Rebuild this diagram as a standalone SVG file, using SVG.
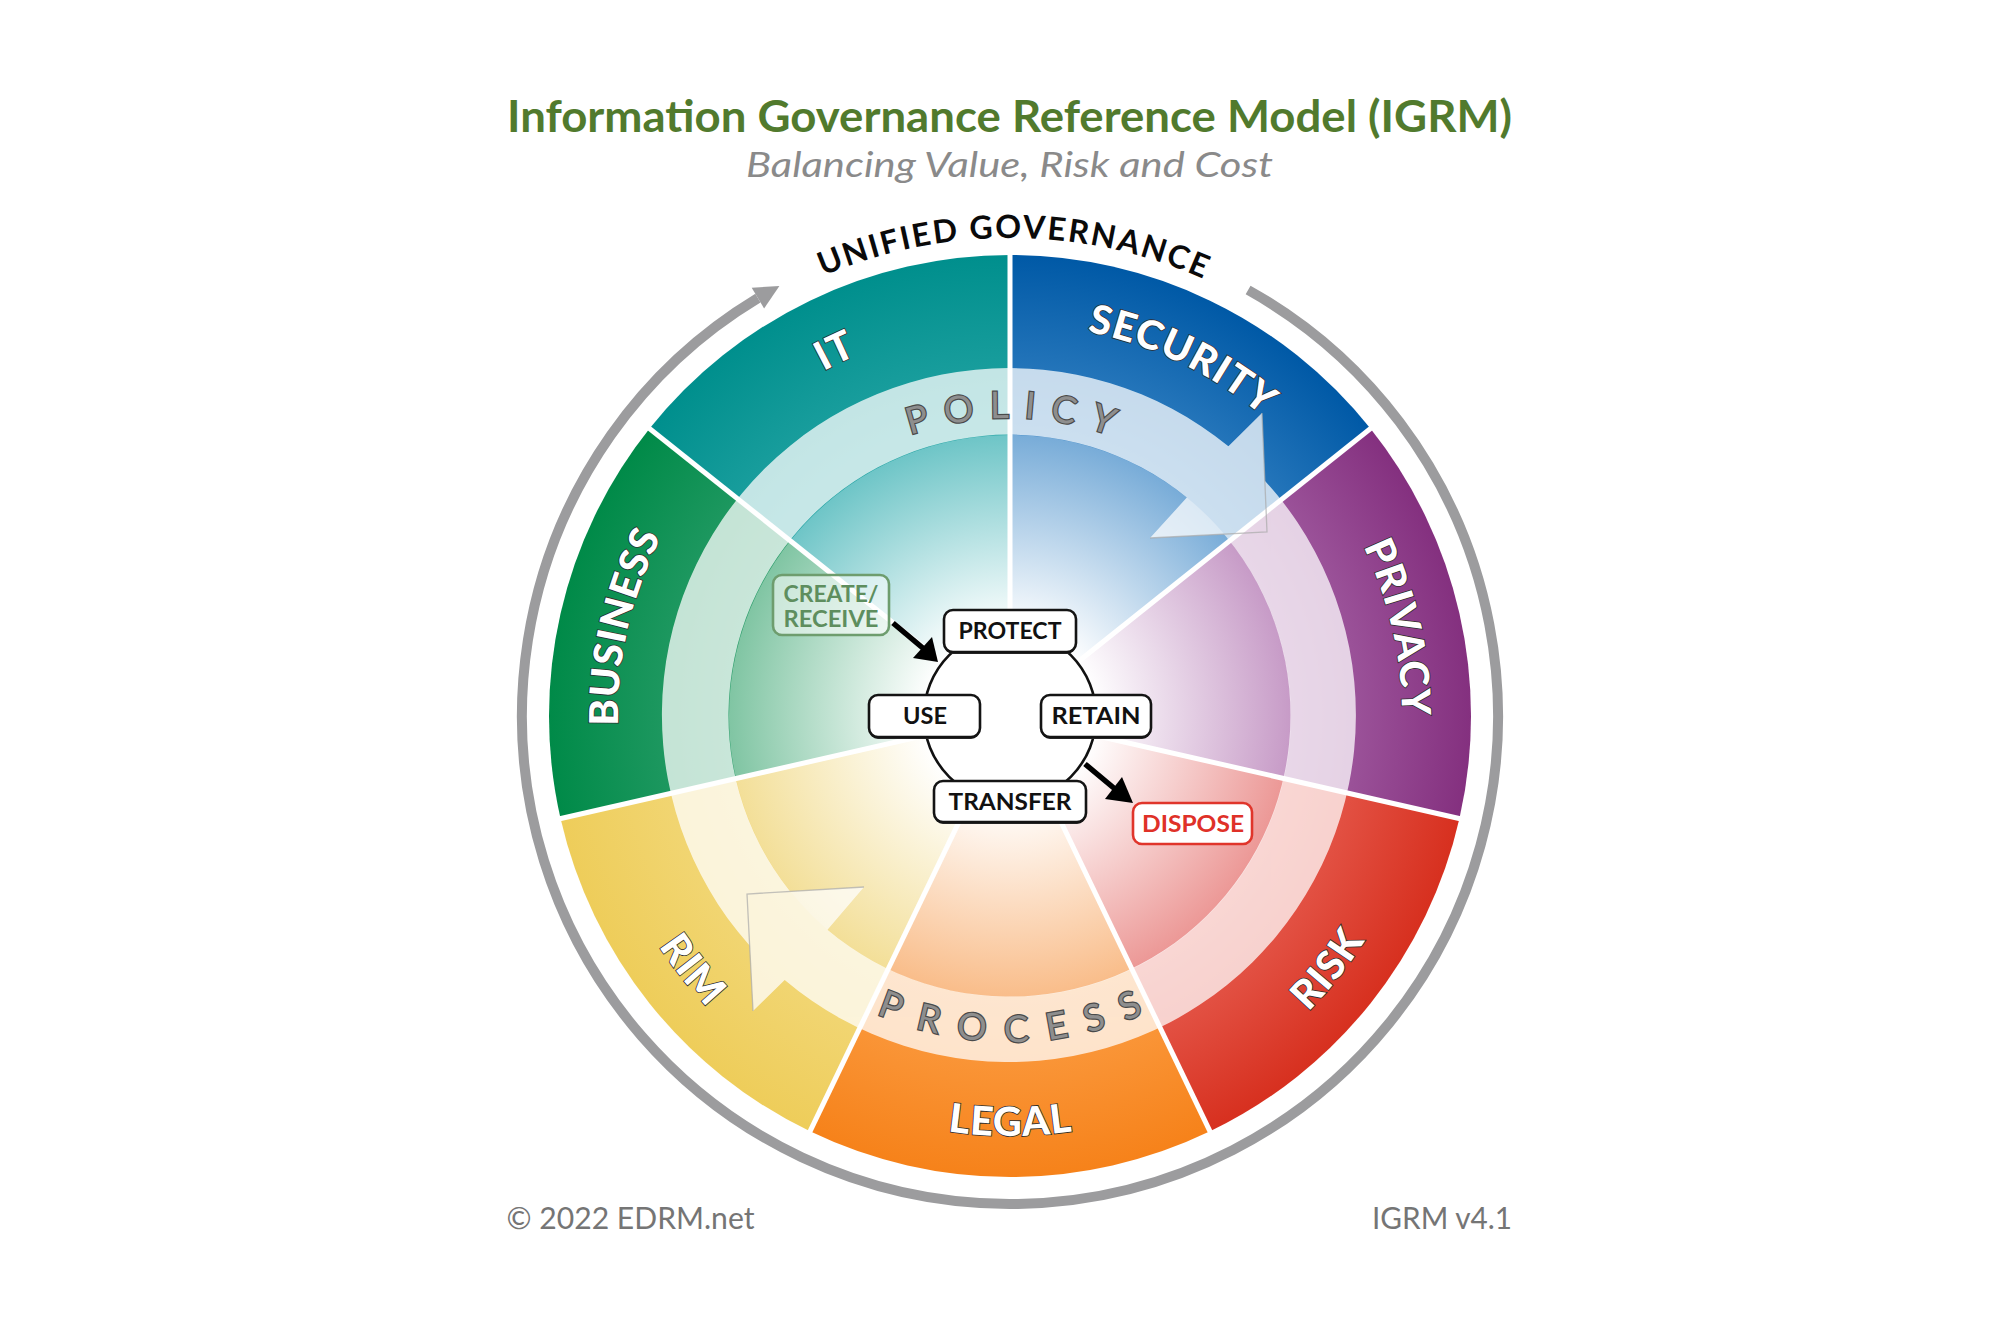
<svg xmlns="http://www.w3.org/2000/svg" width="2001" height="1334" viewBox="0 0 2001 1334">
<style>
text{font-family:Lato,'Open Sans','DejaVu Sans',sans-serif}
.lbl{font-weight:900;font-size:40px;fill:#fff;stroke:#2d2d2d;stroke-width:1.6px;paint-order:stroke;letter-spacing:1px}
.bandtxt{font-weight:400;font-size:37px;fill:#8e8e8e;stroke:#4a4a4a;stroke-width:2.4px;paint-order:stroke}
.ug{font-weight:700;font-size:32px;fill:#0a0a0a;letter-spacing:2px}
.box{fill:#fff;stroke:#141414;stroke-width:2.6}
.shadow{fill:#2a2a2a}
.bt{font-weight:700;font-size:22px;fill:#111;text-anchor:middle}
.sep{stroke:#fff;stroke-width:5;stroke-linecap:butt}
.arr{fill:#000}
</style>
<defs>
  <radialGradient id="o-it" gradientUnits="userSpaceOnUse" cx="1010" cy="716" r="461"><stop offset="0.6" stop-color="#27a6a6"/><stop offset="1" stop-color="#008f8d"/></radialGradient>
  <radialGradient id="o-sec" gradientUnits="userSpaceOnUse" cx="1010" cy="716" r="461"><stop offset="0.6" stop-color="#3a86c6"/><stop offset="1" stop-color="#0059a6"/></radialGradient>
  <radialGradient id="o-pri" gradientUnits="userSpaceOnUse" cx="1010" cy="716" r="461"><stop offset="0.6" stop-color="#a866a8"/><stop offset="1" stop-color="#84307f"/></radialGradient>
  <radialGradient id="o-risk" gradientUnits="userSpaceOnUse" cx="1010" cy="716" r="461"><stop offset="0.6" stop-color="#e96458"/><stop offset="1" stop-color="#d7301f"/></radialGradient>
  <radialGradient id="o-leg" gradientUnits="userSpaceOnUse" cx="1010" cy="716" r="461"><stop offset="0.6" stop-color="#fca048"/><stop offset="1" stop-color="#f6821a"/></radialGradient>
  <radialGradient id="o-rim" gradientUnits="userSpaceOnUse" cx="1010" cy="716" r="461"><stop offset="0.6" stop-color="#f3da80"/><stop offset="1" stop-color="#eecd5a"/></radialGradient>
  <radialGradient id="o-bus" gradientUnits="userSpaceOnUse" cx="1010" cy="716" r="461"><stop offset="0.6" stop-color="#2fa06e"/><stop offset="1" stop-color="#008a48"/></radialGradient>

  <radialGradient id="c-it" gradientUnits="userSpaceOnUse" cx="1010" cy="716" r="281"><stop offset="0.3" stop-color="#fff"/><stop offset="1" stop-color="#6ec5c7"/></radialGradient>
  <radialGradient id="c-sec" gradientUnits="userSpaceOnUse" cx="1010" cy="716" r="281"><stop offset="0.3" stop-color="#fff"/><stop offset="1" stop-color="#78acd8"/></radialGradient>
  <radialGradient id="c-pri" gradientUnits="userSpaceOnUse" cx="1010" cy="716" r="281"><stop offset="0.3" stop-color="#fff"/><stop offset="1" stop-color="#c79bc7"/></radialGradient>
  <radialGradient id="c-risk" gradientUnits="userSpaceOnUse" cx="1010" cy="716" r="281"><stop offset="0.3" stop-color="#fff"/><stop offset="1" stop-color="#ec9896"/></radialGradient>
  <radialGradient id="c-leg" gradientUnits="userSpaceOnUse" cx="1010" cy="716" r="281"><stop offset="0.3" stop-color="#fff"/><stop offset="1" stop-color="#f9bd8a"/></radialGradient>
  <radialGradient id="c-rim" gradientUnits="userSpaceOnUse" cx="1010" cy="716" r="281"><stop offset="0.3" stop-color="#fff"/><stop offset="1" stop-color="#f3df98"/></radialGradient>
  <radialGradient id="c-bus" gradientUnits="userSpaceOnUse" cx="1010" cy="716" r="281"><stop offset="0.3" stop-color="#fff"/><stop offset="1" stop-color="#80c5a3"/></radialGradient>

  <path id="p-it" d="M686.2,495.1 A392,392 0 0 1 1039.4,325.1"/>
  <path id="p-sec" d="M980.6,325.1 A392,392 0 0 1 1333.8,495.1"/>
  <path id="p-pri" d="M1297.3,449.4 A392,392 0 0 1 1384.6,831.5"/>
  <path id="p-bus" d="M635.4,831.5 A392,392 0 0 1 722.7,449.4"/>
  <path id="p-risk" d="M1163.4,1107.0 A420,420 0 0 0 1425.3,778.6"/>
  <path id="p-leg" d="M800,1079.7 A420,420 0 0 0 1220,1079.7"/>
  <path id="p-rim" d="M594.7,778.6 A420,420 0 0 0 856.6,1107.0"/>
  <path id="p-policy" d="M818.5,487.7 A298,298 0 0 1 1201.5,487.7"/>
  <path id="p-process" d="M779.5,946.5 A326,326 0 0 0 1240.5,946.5"/>
  <path id="p-ug" d="M702.7,349.8 A478,478 0 0 1 1317.3,349.8"/>
</defs>

<rect x="0" y="0" width="2001" height="1334" fill="#fff"/>

<g id="title">
  <text x="1009.5" y="132" font-size="44" font-weight="700" fill="#517a2d" text-anchor="middle" textLength="1005" lengthAdjust="spacingAndGlyphs">Information Governance Reference Model (IGRM)</text>
  <text x="1009.5" y="177" font-size="34" font-style="italic" fill="#8a8a8a" text-anchor="middle" textLength="527" lengthAdjust="spacingAndGlyphs">Balancing Value, Risk and Cost</text>
</g>

<g id="sector-it">
  <path d="M1010,716 L649.58,428.57 A461,461 0 0 1 1010,255 Z" fill="url(#o-it)"/>
  <path d="M1010,716 L790.31,540.80 A281,281 0 0 1 1010,435 Z" fill="url(#c-it)"/>
  <text class="lbl"><textPath href="#p-it" startOffset="205.75" text-anchor="middle">IT</textPath></text>
</g>
<g id="sector-security">
  <path d="M1010,716 L1010,255 A461,461 0 0 1 1370.42,428.57 Z" fill="url(#o-sec)"/>
  <path d="M1010,716 L1010,435 A281,281 0 0 1 1229.69,540.80 Z" fill="url(#c-sec)"/>
  <text class="lbl"><textPath href="#p-sec" startOffset="205.75" text-anchor="middle">SECURITY</textPath></text>
</g>
<g id="sector-privacy">
  <path d="M1010,716 L1370.42,428.57 A461,461 0 0 1 1459.44,818.58 Z" fill="url(#o-pri)"/>
  <path d="M1010,716 L1229.69,540.80 A281,281 0 0 1 1283.96,778.53 Z" fill="url(#c-pri)"/>
  <text class="lbl"><textPath href="#p-pri" startOffset="205.75" text-anchor="middle">PRIVACY</textPath></text>
</g>
<g id="sector-risk">
  <path d="M1010,716 L1459.44,818.58 A461,461 0 0 1 1210.02,1131.35 Z" fill="url(#o-risk)"/>
  <path d="M1010,716 L1283.96,778.53 A281,281 0 0 1 1131.92,969.17 Z" fill="url(#c-risk)"/>
  <text class="lbl"><textPath href="#p-risk" startOffset="220.4" text-anchor="middle">RISK</textPath></text>
</g>
<g id="sector-legal">
  <path d="M1010,716 L1210.02,1131.35 A461,461 0 0 1 809.98,1131.35 Z" fill="url(#o-leg)"/>
  <path d="M1010,716 L1131.92,969.17 A281,281 0 0 1 888.08,969.17 Z" fill="url(#c-leg)"/>
  <text class="lbl"><textPath href="#p-leg" startOffset="220.4" text-anchor="middle">LEGAL</textPath></text>
</g>
<g id="sector-rim">
  <path d="M1010,716 L809.98,1131.35 A461,461 0 0 1 560.56,818.58 Z" fill="url(#o-rim)"/>
  <path d="M1010,716 L888.08,969.17 A281,281 0 0 1 736.04,778.53 Z" fill="url(#c-rim)"/>
  <text class="lbl"><textPath href="#p-rim" startOffset="220.4" text-anchor="middle">RIM</textPath></text>
</g>
<g id="sector-business">
  <path d="M1010,716 L560.56,818.58 A461,461 0 0 1 649.58,428.57 Z" fill="url(#o-bus)"/>
  <path d="M1010,716 L736.04,778.53 A281,281 0 0 1 790.31,540.80 Z" fill="url(#c-bus)"/>
  <text class="lbl"><textPath href="#p-bus" startOffset="205.75" text-anchor="middle">BUSINESS</textPath></text>
</g>

<g id="separators">
  <line class="sep" x1="1010" y1="716" x2="1010" y2="252"/>
  <line class="sep" x1="1010" y1="716" x2="1372.77" y2="426.70"/>
  <line class="sep" x1="1010" y1="716" x2="1462.37" y2="819.25"/>
  <line class="sep" x1="1010" y1="716" x2="1211.32" y2="1134.05"/>
  <line class="sep" x1="1010" y1="716" x2="808.68" y2="1134.05"/>
  <line class="sep" x1="1010" y1="716" x2="557.63" y2="819.25"/>
  <line class="sep" x1="1010" y1="716" x2="647.23" y2="426.70"/>
</g>

<g id="band-arrows">
  <g opacity="0.74" fill="#fff">
    <path d="M784.7,979.9 A347,347 0 0 1 1228.4,446.3 L1262,413 L1267,532 L1150,538 L1186.8,497.6 A281,281 0 0 0 827.5,929.7 Z"/>
    <path d="M1228.4,446.3 A347,347 0 1 1 784.7,979.9 L753,1011 L747,894 L864,887 L827.5,929.7 A281,281 0 1 0 1186.8,497.6 Z"/>
  </g>
  <polyline points="1262,413 1267,532 1150,538" fill="none" stroke="#a9a9a9" stroke-width="1.3" opacity="0.7"/>
  <polyline points="753,1011 747,894 864,887" fill="none" stroke="#a9a9a9" stroke-width="1.3" opacity="0.7"/>
  <text class="bandtxt" letter-spacing="15"><textPath href="#p-policy" startOffset="215.6" text-anchor="middle">POLICY</textPath></text>
  <text class="bandtxt" letter-spacing="19"><textPath href="#p-process" startOffset="265.6" text-anchor="middle">PROCESS</textPath></text>
</g>

<g id="governance-ring">
  <path d="M1248.1,290.0 A488,488 0 1 1 757.9,298.1" fill="none" stroke="#9c9c9e" stroke-width="10"/>
  <polygon points="779.4,285.9 751.7,287.8 764.1,308.4" fill="#9c9c9e"/>
  <text class="ug"><textPath href="#p-ug" startOffset="338" text-anchor="middle">UNIFIED GOVERNANCE</textPath></text>
</g>

<g id="connectors">
  <circle cx="1010" cy="716" r="86" fill="#fff" stroke="#111" stroke-width="2.6"/>
  <line x1="893" y1="623" x2="924" y2="649" stroke="#000" stroke-width="5.5"/>
  <polygon class="arr" points="938,662 913,658 932,637"/>
  <line x1="1085" y1="764" x2="1115" y2="789" stroke="#000" stroke-width="5.5"/>
  <polygon class="arr" points="1133,803 1105,799 1122,777"/>
</g>

<g id="node-create">
  <rect x="773" y="575" width="116" height="60" rx="9" fill="#fff" fill-opacity="0.55" stroke="#6e9d6e" stroke-width="2.6"/>
  <text class="bt" x="831" y="602" style="fill:#5e8e5e" textLength="95" lengthAdjust="spacingAndGlyphs">CREATE/</text>
  <text class="bt" x="831" y="627" style="fill:#5e8e5e" textLength="95" lengthAdjust="spacingAndGlyphs">RECEIVE</text>
</g>
<g id="node-protect">
  <rect class="shadow" x="944" y="612" width="132" height="42" rx="9"/>
  <rect class="box" x="944" y="610" width="132" height="42" rx="9"/>
  <text class="bt" x="1010" y="639" textLength="103" lengthAdjust="spacingAndGlyphs">PROTECT</text>
</g>
<g id="node-use">
  <rect class="shadow" x="869" y="697" width="111" height="42" rx="9"/>
  <rect class="box" x="869" y="695" width="111" height="42" rx="9"/>
  <text class="bt" x="925" y="724" textLength="44" lengthAdjust="spacingAndGlyphs">USE</text>
</g>
<g id="node-retain">
  <rect class="shadow" x="1041" y="697" width="110" height="42" rx="9"/>
  <rect class="box" x="1041" y="695" width="110" height="42" rx="9"/>
  <text class="bt" x="1096" y="724" textLength="89" lengthAdjust="spacingAndGlyphs">RETAIN</text>
</g>
<g id="node-transfer">
  <rect class="shadow" x="934" y="783" width="152" height="41" rx="9"/>
  <rect class="box" x="934" y="781" width="152" height="41" rx="9"/>
  <text class="bt" x="1010" y="810" textLength="123" lengthAdjust="spacingAndGlyphs">TRANSFER</text>
</g>
<g id="node-dispose">
  <rect x="1133" y="803" width="119" height="41" rx="9" fill="#fff" stroke="#e0352b" stroke-width="2.6"/>
  <text class="bt" x="1193" y="832" style="fill:#df3128" textLength="102" lengthAdjust="spacingAndGlyphs">DISPOSE</text>
</g>

<g id="footer">
  <text x="506.5" y="1229" font-size="30" fill="#757575" textLength="248" lengthAdjust="spacingAndGlyphs">© 2022 EDRM.net</text>
  <text x="1512" y="1229" font-size="30" fill="#757575" text-anchor="end" textLength="140" lengthAdjust="spacingAndGlyphs">IGRM v4.1</text>
</g>
</svg>
